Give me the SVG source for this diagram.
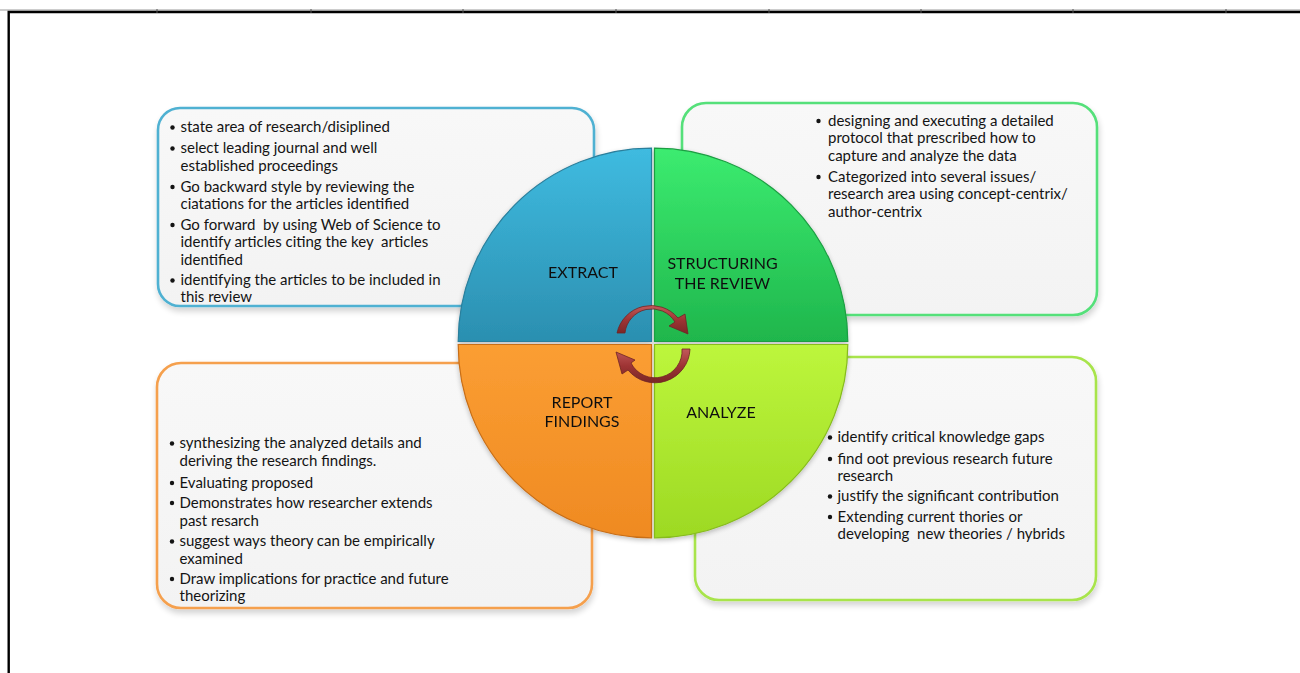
<svg xmlns="http://www.w3.org/2000/svg" width="1300" height="673" viewBox="0 0 1300 673">
  <style>
    .body { font-family: "Lato", "Liberation Sans", sans-serif; font-size: 15px; fill: #141414; }
    .label { font-family: "Lato", "Liberation Sans", sans-serif; font-size: 16px; fill: #111; text-anchor: middle; }
    .box { fill: url(#boxFill); stroke-width: 2.6; filter: url(#softShadow); }
    .dot { fill: #141414; }
    .frame { stroke: #000; stroke-width: 2.4; fill: none; }
    .tick { stroke: #555; stroke-width: 1; }
    .quad { stroke-width: 1.2; }
    .arrow { fill: url(#arrowFill); stroke: #6e2424; stroke-width: 0.8; }
  </style>
  <defs>
    <linearGradient id="boxFill" x1="0" y1="0" x2="0" y2="1">
      <stop offset="0" stop-color="#f8f8f8"/>
      <stop offset="1" stop-color="#f3f3f3"/>
    </linearGradient>
    <linearGradient id="gBlue" x1="0" y1="0" x2="0" y2="1">
      <stop offset="0" stop-color="#3fbbe0"/>
      <stop offset="1" stop-color="#2b8fb0"/>
    </linearGradient>
    <linearGradient id="gGreen" x1="0" y1="0" x2="0" y2="1">
      <stop offset="0" stop-color="#3cec70"/>
      <stop offset="1" stop-color="#1fb64c"/>
    </linearGradient>
    <linearGradient id="gOrange" x1="0" y1="0" x2="0" y2="1">
      <stop offset="0" stop-color="#fb9e33"/>
      <stop offset="1" stop-color="#ef8a22"/>
    </linearGradient>
    <linearGradient id="gLime" x1="0" y1="0" x2="0" y2="1">
      <stop offset="0" stop-color="#bdf63c"/>
      <stop offset="1" stop-color="#9dd923"/>
    </linearGradient>
    <linearGradient id="arrowFill" x1="0" y1="0" x2="0" y2="1">
      <stop offset="0" stop-color="#c25a5a"/>
      <stop offset="0.5" stop-color="#9e3434"/>
      <stop offset="1" stop-color="#7a2626"/>
    </linearGradient>
    <filter id="softShadow" x="-10%" y="-10%" width="120%" height="125%">
      <feGaussianBlur in="SourceAlpha" stdDeviation="3"/>
      <feOffset dx="1" dy="4" result="b"/>
      <feComponentTransfer><feFuncA type="linear" slope="0.18"/></feComponentTransfer>
      <feMerge><feMergeNode/><feMergeNode in="SourceGraphic"/></feMerge>
    </filter>
    <filter id="circleShadow" x="-10%" y="-10%" width="120%" height="120%">
      <feGaussianBlur in="SourceAlpha" stdDeviation="2.5"/>
      <feOffset dx="0" dy="2" result="b"/>
      <feComponentTransfer><feFuncA type="linear" slope="0.25"/></feComponentTransfer>
      <feMerge><feMergeNode/><feMergeNode in="SourceGraphic"/></feMerge>
    </filter>
  </defs>

  <!-- page frame -->
  <g id="frame">
    <line x1="0" y1="10" x2="1300" y2="10" stroke="#9a9a9a" stroke-width="1"/>
    <path class="frame" d="M8.7,673 V12 H1300"/>
    <line class="tick" x1="157" y1="9" x2="157" y2="13"/>
    <line class="tick" x1="311" y1="9" x2="311" y2="13"/>
    <line class="tick" x1="463" y1="9" x2="463" y2="13"/>
    <line class="tick" x1="616" y1="9" x2="616" y2="13"/>
    <line class="tick" x1="769" y1="9" x2="769" y2="13"/>
    <line class="tick" x1="921" y1="9" x2="921" y2="13"/>
    <line class="tick" x1="1073" y1="9" x2="1073" y2="13"/>
    <line class="tick" x1="1226" y1="9" x2="1226" y2="13"/>
  </g>

  <!-- text panels -->
  <g id="panel-extract">
    <rect class="box" x="158" y="108" width="436" height="198" rx="22" stroke="#4fb1d2"/>
    <g class="body">
      <circle class="dot" cx="172.5" cy="127.5" r="2.2"/><text x="180.5" y="132">state area of research/disiplined</text>
      <circle class="dot" cx="172.5" cy="148.5" r="2.2"/><text x="180.5" y="153">select leading journal and well</text>
      <text x="180.5" y="170.5">established proceedings</text>
      <circle class="dot" cx="172.5" cy="187" r="2.2"/><text x="180.5" y="191.5">Go backward style by reviewing the</text>
      <text x="180.5" y="209">ciatations for the articles identified</text>
      <circle class="dot" cx="172.5" cy="225" r="2.2"/><text x="180.5" y="229.5" xml:space="preserve">Go forward  by using Web of Science to</text>
      <text x="180.5" y="247" xml:space="preserve">identify articles citing the key  articles</text>
      <text x="180.5" y="264.5">identified</text>
      <circle class="dot" cx="172.5" cy="280.5" r="2.2"/><text x="180.5" y="285">identifying the articles to be included in</text>
      <text x="180.5" y="302">this review</text>
    </g>
  </g>

  <g id="panel-structuring">
    <rect class="box" x="682" y="103" width="415" height="212" rx="24" stroke="#55e07a"/>
    <g class="body">
      <circle class="dot" cx="818.5" cy="121" r="2.2"/><text x="828" y="125.5">designing and executing a detailed</text>
      <text x="828" y="143">protocol that prescribed how to</text>
      <text x="828" y="160.5">capture and analyze the data</text>
      <circle class="dot" cx="818.5" cy="177" r="2.2"/><text x="828" y="181.5">Categorized into several issues/</text>
      <text x="828" y="199">research area using concept-centrix/</text>
      <text x="828" y="216.5">author-centrix</text>
    </g>
  </g>

  <g id="panel-report">
    <rect class="box" x="157" y="363" width="435" height="245" rx="24" stroke="#f5a04e"/>
    <g class="body">
      <circle class="dot" cx="172" cy="443.5" r="2.2"/><text x="179.5" y="448">synthesizing the analyzed details and</text>
      <text x="179.5" y="466">deriving the research findings.</text>
      <circle class="dot" cx="172" cy="483" r="2.2"/><text x="179.5" y="487.5">Evaluating proposed</text>
      <circle class="dot" cx="172" cy="503" r="2.2"/><text x="179.5" y="507.5">Demonstrates how researcher extends</text>
      <text x="179.5" y="525.5">past resarch</text>
      <circle class="dot" cx="172" cy="541.5" r="2.2"/><text x="179.5" y="546">suggest ways theory can be empirically</text>
      <text x="179.5" y="563.5">examined</text>
      <circle class="dot" cx="172" cy="579" r="2.2"/><text x="179.5" y="583.5">Draw implications for practice and future</text>
      <text x="179.5" y="601">theorizing</text>
    </g>
  </g>

  <g id="panel-analyze">
    <rect class="box" x="695" y="357" width="401" height="243" rx="24" stroke="#a8e44c"/>
    <g class="body">
      <circle class="dot" cx="830" cy="437.5" r="2.2"/><text x="837.5" y="442">identify critical knowledge gaps</text>
      <circle class="dot" cx="830" cy="459" r="2.2"/><text x="837.5" y="463.5">find oot previous research future</text>
      <text x="837.5" y="480.5">research</text>
      <circle class="dot" cx="830" cy="496.5" r="2.2"/><text x="837.5" y="501">justify the significant contribution</text>
      <circle class="dot" cx="830" cy="517" r="2.2"/><text x="837.5" y="521.5">Extending current thories or</text>
      <text x="837.5" y="539" xml:space="preserve">developing  new theories / hybrids</text>
    </g>
  </g>

  <!-- cycle wheel -->
  <g id="wheel" filter="url(#circleShadow)">
    <g id="quad-extract">
      <path class="quad" d="M651.5,341.5 V148.2 A193.3,193.3 0 0 0 458.2,341.5 Z" fill="url(#gBlue)" stroke="#2a7f9c"/>
      <text class="label" x="583" y="278">EXTRACT</text>
    </g>
    <g id="quad-structuring">
      <path class="quad" d="M654.5,341.5 V148.2 A193.3,193.3 0 0 1 847.8,341.5 Z" fill="url(#gGreen)" stroke="#1c9e43"/>
      <text class="label" x="722.5" y="269">STRUCTURING</text>
      <text class="label" x="722.5" y="289">THE REVIEW</text>
    </g>
    <g id="quad-report">
      <path class="quad" d="M651.5,344.5 V537.8 A193.3,193.3 0 0 1 458.2,344.5 Z" fill="url(#gOrange)" stroke="#c86e17"/>
      <text class="label" x="582" y="407.5">REPORT</text>
      <text class="label" x="582" y="427">FINDINGS</text>
    </g>
    <g id="quad-analyze">
      <path class="quad" d="M654.5,344.5 V537.8 A193.3,193.3 0 0 0 847.8,344.5 Z" fill="url(#gLime)" stroke="#86bb1c"/>
      <text class="label" x="721" y="417.5">ANALYZE</text>
    </g>
  </g>

  <!-- circular arrows in the middle of the wheel -->
  <g id="connectors">
    <!-- upper arc, clockwise, head on the right -->
    <path class="arrow" d="M617,333 A35,35 0 0 1 678,318 L685,314 L688,334 L669,326 L675,322 A27,27 0 0 0 625,333 Z"/>
    <!-- lower arc, clockwise, head on the left -->
    <path class="arrow" d="M690,349 A35,35 0 0 1 628,370 L622,374 L616,352 L635,360 L631,363 A27,27 0 0 0 682,349 Z"/>
  </g>
</svg>
